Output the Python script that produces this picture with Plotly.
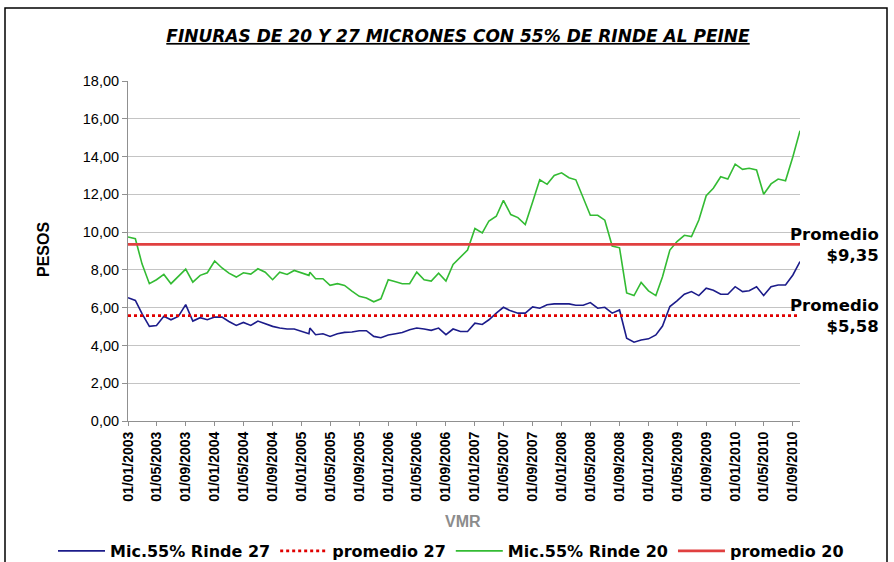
import plotly.graph_objects as go

# ---- data ----
dates = [
    "2003-01-01", "2003-02-01", "2003-03-01", "2003-04-01", "2003-05-01", "2003-06-01",
    "2003-07-01", "2003-08-01", "2003-09-01", "2003-10-01", "2003-11-01", "2003-12-01",
    "2004-01-01", "2004-02-01", "2004-03-01", "2004-04-01", "2004-05-01", "2004-06-01",
    "2004-07-01", "2004-08-01", "2004-09-01", "2004-10-01", "2004-11-01", "2004-12-01",
    "2005-01-01", "2005-02-01", "2005-02-05", "2005-03-01", "2005-04-01", "2005-05-01",
    "2005-06-01", "2005-07-01", "2005-08-01", "2005-09-01", "2005-10-01", "2005-11-01",
    "2005-12-01", "2006-01-01", "2006-02-01", "2006-03-01", "2006-04-01", "2006-05-01",
    "2006-06-01", "2006-07-01", "2006-08-01", "2006-09-01", "2006-10-01", "2006-11-01",
    "2006-12-01", "2007-01-01", "2007-02-01", "2007-03-01", "2007-04-01", "2007-05-01",
    "2007-06-01", "2007-07-01", "2007-08-01", "2007-09-01", "2007-10-01", "2007-11-01",
    "2007-12-01", "2008-01-01", "2008-02-01", "2008-03-01", "2008-04-01", "2008-05-01",
    "2008-06-01", "2008-07-01", "2008-08-01", "2008-09-01", "2008-10-01", "2008-11-01",
    "2008-12-01", "2009-01-01", "2009-02-01", "2009-03-01", "2009-04-01", "2009-05-01",
    "2009-06-01", "2009-07-01", "2009-08-01", "2009-09-01", "2009-10-01", "2009-11-01",
    "2009-12-01", "2010-01-01", "2010-02-01", "2010-03-01", "2010-04-01", "2010-05-01",
    "2010-06-01", "2010-07-01", "2010-08-01", "2010-09-01", "2010-10-01",
]

rinde27 = [
    6.53, 6.38, 5.68, 5.01, 5.06, 5.54, 5.36, 5.54, 6.16, 5.29, 5.47, 5.36,
    5.50, 5.50, 5.27, 5.06, 5.22, 5.06, 5.29, 5.15, 5.01, 4.92, 4.87, 4.87,
    4.75, 4.62, 4.92, 4.57, 4.62, 4.48, 4.62, 4.69, 4.71, 4.78, 4.78, 4.48,
    4.41, 4.55, 4.62, 4.69, 4.83, 4.92, 4.87, 4.80, 4.92, 4.57, 4.87, 4.74,
    4.74, 5.18, 5.11, 5.36, 5.71, 6.02, 5.83, 5.71, 5.71, 6.04, 5.97, 6.15,
    6.20, 6.20, 6.20, 6.13, 6.13, 6.27, 5.97, 6.02, 5.71, 5.88, 4.38, 4.17,
    4.29, 4.35, 4.56, 5.03, 6.06, 6.36, 6.71, 6.85, 6.64, 7.03, 6.92, 6.71,
    6.71, 7.11, 6.85, 6.90, 7.11, 6.64, 7.11, 7.20, 7.20, 7.73, 8.44,
]

rinde20 = [
    9.74, 9.65, 8.32, 7.27, 7.48, 7.76, 7.27, 7.65, 8.04, 7.35, 7.71, 7.85,
    8.47, 8.10, 7.83, 7.62, 7.85, 7.78, 8.06, 7.88, 7.48, 7.88, 7.76, 7.97,
    7.83, 7.71, 7.88, 7.53, 7.53, 7.18, 7.27, 7.18, 6.88, 6.60, 6.51, 6.31,
    6.47, 7.48, 7.37, 7.27, 7.27, 7.88, 7.48, 7.41, 7.83, 7.41, 8.29, 8.70,
    9.05, 10.19, 9.96, 10.59, 10.84, 11.68, 10.93, 10.77, 10.40, 11.60, 12.77, 12.53,
    13.00, 13.14, 12.88, 12.77, 11.86, 10.89, 10.89, 10.63, 9.26, 9.17, 6.78, 6.64,
    7.34, 6.89, 6.64, 7.64, 9.05, 9.50, 9.83, 9.76, 10.64, 11.93, 12.32, 12.93,
    12.81, 13.60, 13.32, 13.38, 13.29, 12.00, 12.55, 12.81, 12.72, 13.99, 15.37,
]

promedio27 = 5.58
promedio20 = 9.35

series_names = ["Mic.55% Rinde 27", "promedio 27", "Mic.55% Rinde 20", "promedio 20"]
title_text = "FINURAS DE 20 Y 27 MICRONES CON 55% DE RINDE AL PEINE"


def fmt(v):
    return f"{v:.2f}".replace(".", ",")


span = [dates[0], dates[-1]]

# plot area in pixels: x 128..800, y 81..421
PL, PR, PT, PB = 128, 800, 81, 421
PW, PH = PR - PL, PB - PT


def px(x):
    return (x - PL) / PW


def py(y):
    return (PB - y) / PH


fig = go.Figure()
fig.add_trace(go.Scatter(x=dates, y=rinde27, mode="lines", name=series_names[0],
                         line=dict(color="#1c1c8a", width=1.6)))
fig.add_trace(go.Scatter(x=span, y=[promedio27, promedio27], mode="lines", name=series_names[1],
                         line=dict(color="#e00000", width=2.6, dash="dot")))
fig.add_trace(go.Scatter(x=dates, y=rinde20, mode="lines", name=series_names[2],
                         line=dict(color="#33bb33", width=1.6)))
fig.add_trace(go.Scatter(x=span, y=[promedio20, promedio20], mode="lines", name=series_names[3],
                         line=dict(color="#e04040", width=2.8)))

fig.update_layout(
    width=894, height=562,
    margin=dict(l=PL, r=894 - PR, t=PT, b=562 - PB, autoexpand=False),
    paper_bgcolor="white", plot_bgcolor="white",
    separators=",.",
    font=dict(family="Liberation Sans, Arial, sans-serif", color="black"),
    title=dict(text=f"<b><i><u>{title_text}</u></i></b>",
               x=px(458), xref="paper", xanchor="center",
               y=1 - 36 / 562, yref="container", yanchor="middle",
               font=dict(family="DejaVu Sans, sans-serif", size=17, color="black")),
    showlegend=True,
    legend=dict(orientation="h", xref="paper", x=px(53), xanchor="left",
                yref="paper", y=py(551), yanchor="middle",
                font=dict(family="DejaVu Sans, sans-serif", size=16, color="black", weight="bold"),
                itemwidth=47, tracegroupgap=0, bgcolor="rgba(0,0,0,0)"),
    xaxis=dict(type="date", range=span, tick0="2003-01-01", dtick="M4", automargin=False,
               tickformat="%d/%m/%Y", tickangle=-90,
               tickfont=dict(family="Liberation Sans, Arial, sans-serif", size=14, color="black",
                             weight="bold"),
               showgrid=False, showline=True, linecolor="#909090", linewidth=1,
               ticks="outside", ticklen=4, tickcolor="#909090", zeroline=False),
    yaxis=dict(range=[0, 18], dtick=2, tickformat=".2f", automargin=False,
               tickfont=dict(family="Liberation Sans, Arial, sans-serif", size=14.5, color="black"),
               showgrid=True, gridcolor="#c4c4c4", gridwidth=1,
               showline=True, linecolor="#909090", linewidth=1,
               ticks="outside", ticklen=5, tickcolor="#909090", zeroline=False),
)

fig.add_annotation(text="<b>PESOS</b>", xref="paper", yref="paper",
                   x=px(43), y=py(250), xanchor="center", yanchor="middle",
                   textangle=-90, showarrow=False,
                   font=dict(family="Liberation Sans, Arial, sans-serif", size=16, color="black"))
fig.add_annotation(text="<b>VMR</b>", xref="paper", yref="paper",
                   x=px(463), y=py(521), xanchor="center", yanchor="middle", showarrow=False,
                   font=dict(family="Liberation Sans, Arial, sans-serif", size=16, color="#8c8c8c"))
fig.add_annotation(text=f"<b>Promedio</b><br><b>${fmt(promedio20)}</b>", xref="paper", yref="paper",
                   x=px(881), y=py(245), xanchor="right", yanchor="middle",
                   align="right", showarrow=False,
                   font=dict(family="DejaVu Sans, sans-serif", size=16.5, color="black"))
fig.add_annotation(text=f"<b>Promedio</b><br><b>${fmt(promedio27)}</b>", xref="paper", yref="paper",
                   x=px(881), y=py(315.5), xanchor="right", yanchor="middle",
                   align="right", showarrow=False,
                   font=dict(family="DejaVu Sans, sans-serif", size=16.5, color="black"))

fig.add_shape(type="rect", xref="paper", yref="paper",
              x0=px(5), x1=px(887), y0=py(600), y1=py(8),
              line=dict(color="black", width=1.5), fillcolor="rgba(0,0,0,0)", layer="below")

fig.write_html("out.html", config={"displayModeBar": False},
               post_script="document.body.style.margin='0px';")
